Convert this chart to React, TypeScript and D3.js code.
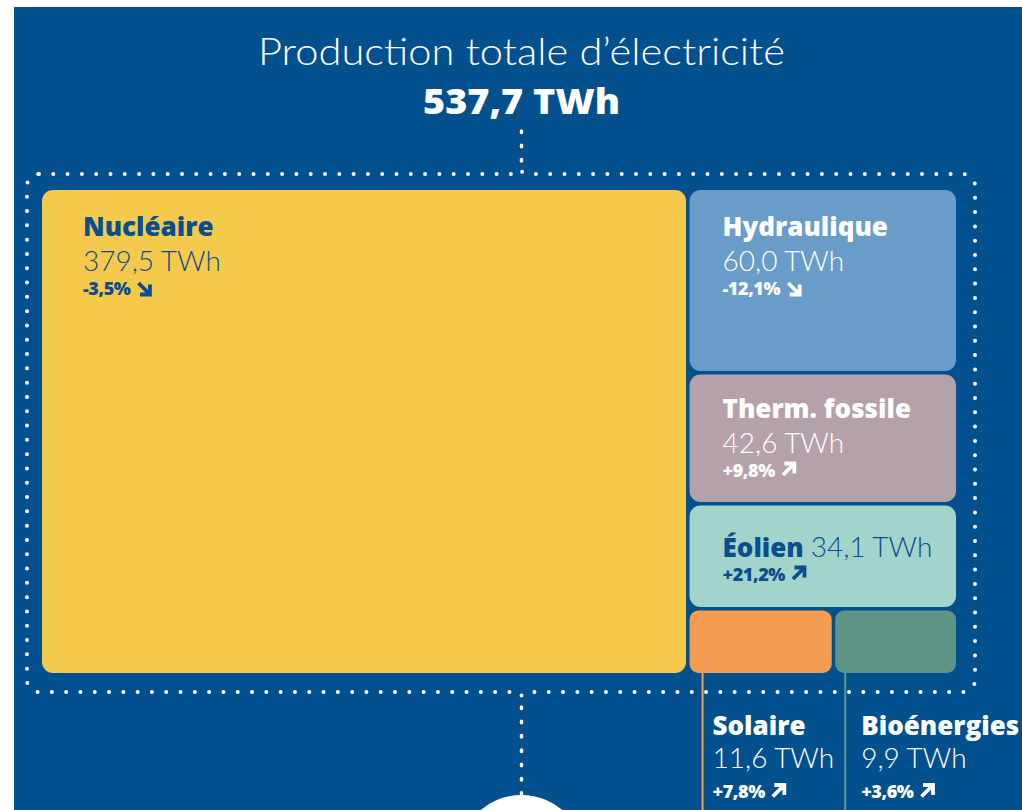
import { useEffect, useRef } from 'react';
import * as d3 from 'd3';

// Production d'électricité par filière (TWh) et évolution annuelle (%)
const sources = ['Nucléaire', 'Hydraulique', 'Therm. fossile', 'Éolien', 'Solaire', 'Bioénergies'];
const valuesTWh = [379.5, 60.0, 42.6, 34.1, 11.6, 9.9];
const changesPct = [-3.5, -12.1, 9.8, 21.2, 7.8, 3.6];
const fills = ['#F5C94B', '#6A9CCA', '#B5A1AA', '#A2D4CB', '#F49D52', '#5E9587'];
const textColors = ['#0B4E8D', '#FFFFFF', '#FFFFFF', '#0B4E8D', '#FFFFFF', '#FFFFFF'];
const totalLabel = '537,7 TWh';
const title = 'Production totale d\u2019électricité';

const BG = '#03508E';
const FONT = 'Lato, "Open Sans", sans-serif';
const BOLD_FONT = '"Open Sans", Lato, sans-serif';

const fmt = (v: number) => v.toFixed(1).replace('.', ',');
const fmtPct = (v: number) => `${v > 0 ? '+' : ''}${fmt(v)}%`;

export default function App() {
  const svgRef = useRef<SVGSVGElement>(null);

  useEffect(() => {
    if (!svgRef.current) return;
    const svg = d3.select(svgRef.current);
    svg.selectAll('*').remove();

    const W = 1022;
    const H = 810;
    const cx = 521.5;

    // background
    svg.append('rect').attr('width', W).attr('height', H).attr('fill', '#fff');
    svg.append('rect').attr('x', 14).attr('y', 7).attr('width', W - 14).attr('height', H - 7).attr('fill', BG);

    // title
    svg
      .append('text')
      .attr('x', cx)
      .attr('y', 65)
      .attr('text-anchor', 'middle')
      .attr('fill', '#fff')
      .style('font-family', FONT)
      .style('font-weight', 300)
      .style('font-size', '37px')
      .attr('textLength', 527)
      .attr('lengthAdjust', 'spacingAndGlyphs')
      .text(title);

    svg
      .append('text')
      .attr('x', cx)
      .attr('y', 114)
      .attr('text-anchor', 'middle')
      .attr('fill', '#fff')
      .style('font-family', BOLD_FONT)
      .style('font-weight', 800)
      .style('font-size', '36px')
      .attr('textLength', 197)
      .attr('lengthAdjust', 'spacingAndGlyphs')
      .text(totalLabel);

    // treemap layout
    const treeData = {
      name: 'root',
      children: [
        { name: sources[0], idx: 0, value: valuesTWh[0] },
        {
          name: 'autres',
          children: [
            { name: sources[1], idx: 1, value: valuesTWh[1] },
            { name: sources[2], idx: 2, value: valuesTWh[2] },
            { name: sources[3], idx: 3, value: valuesTWh[3] },
            {
              name: 'petits',
              children: [
                { name: sources[4], idx: 4, value: valuesTWh[4] },
                { name: sources[5], idx: 5, value: valuesTWh[5] },
              ],
            },
          ],
        },
      ],
    };

    const box = { x: 42, y: 190, w: 914, h: 483 };

    const root = d3
      .hierarchy<any>(treeData)
      .sum((d) => (d.children ? 0 : d.value));

    d3
      .treemap<any>()
      .tile(d3.treemapSliceDice)
      .size([box.w, box.h])
      .paddingInner(3.5)(root);

    const g = svg.append('g').attr('transform', `translate(${box.x},${box.y})`);

    const leaves = root.leaves() as d3.HierarchyRectangularNode<any>[];

    g.selectAll('rect.cell')
      .data(leaves)
      .enter()
      .append('rect')
      .attr('class', 'cell')
      .attr('x', (d) => d.x0)
      .attr('y', (d) => d.y0)
      .attr('width', (d) => d.x1 - d.x0)
      .attr('height', (d) => d.y1 - d.y0)
      .attr('rx', (d) => (d.y1 - d.y0 < 80 ? 9 : 11))
      .attr('fill', (d) => fills[d.data.idx]);

    // arrow after percentage
    const drawArrow = (sel: any, x: number, y: number, up: boolean, color: string) => {
      const s = 12.5;
      const p = d3.path();
      if (up) {
        p.moveTo(x + 1, y - 1);
        p.lineTo(x + s, y - s);
        p.moveTo(x + s * 0.2, y - s);
        p.lineTo(x + s, y - s);
        p.lineTo(x + s, y - s * 0.2);
      } else {
        p.moveTo(x + 1, y - s + 1);
        p.lineTo(x + s, y);
        p.moveTo(x + s, y - s * 0.8);
        p.lineTo(x + s, y);
        p.lineTo(x + s * 0.2, y);
      }
      sel
        .append('path')
        .attr('d', p.toString())
        .attr('fill', 'none')
        .attr('stroke', color)
        .attr('stroke-width', 3.8)
        .attr('stroke-linejoin', 'miter')
        .attr('stroke-linecap', 'butt');
    };

    const addPct = (sel: any, x: number, y: number, i: number, color: string) => {
      const t = sel
        .append('text')
        .attr('x', x)
        .attr('y', y)
        .attr('fill', color)
        .style('font-family', BOLD_FONT)
        .style('font-weight', 800)
        .style('font-size', '18px')
        .style('letter-spacing', '-0.4px')
        .text(fmtPct(changesPct[i]));
      const w = (t.node() as SVGTextElement).getComputedTextLength();
      drawArrow(sel, x + w + 7, y - 0.5, changesPct[i] > 0, color);
    };

    const labelText = (sel: any, x: number, y: number, txt: string, color: string, bold: boolean, size: number) =>
      sel
        .append('text')
        .attr('x', x)
        .attr('y', y)
        .attr('fill', color)
        .style('font-family', bold ? BOLD_FONT : FONT)
        .style('font-weight', bold ? 800 : 300)
        .style('font-size', `${size}px`)
        .text(txt);

    leaves.forEach((d) => {
      const i = d.data.idx;
      const color = textColors[i];
      const big = d.y1 - d.y0 > 80;
      if (i === 3) {
        // inline label + value
        const x = d.x0 + 33;
        const y = d.y0 + 51;
        const t = labelText(g, x, y, sources[i], color, true, 26);
        const w = (t.node() as SVGTextElement).getComputedTextLength();
        labelText(g, x + w + 7, y, `${fmt(valuesTWh[i])} TWh`, color, false, 28);
        addPct(g, x, y + 24, i, color);
      } else if (big) {
        const x = d.x0 + (d.x0 === 0 ? 41 : 33);
        const y = d.y0 + (i === 2 ? 43 : 46);
        labelText(g, x, y, sources[i], color, true, 26);
        labelText(g, x, y + 35, `${fmt(valuesTWh[i])} TWh`, color, false, 28);
        addPct(g, x, y + 59, i, color);
      } else {
        // small cells: leader line + label below the box
        const lx = d.x0 + (i === 4 ? 13 : 10);
        g.append('line')
          .attr('x1', lx)
          .attr('x2', lx)
          .attr('y1', d.y1)
          .attr('y2', H - box.y)
          .attr('stroke', fills[i])
          .attr('stroke-width', 2);
        const x = lx + (i === 4 ? 10 : 16);
        const y = d.y1 + 62;
        labelText(g, x, y, sources[i], color, true, 26);
        labelText(g, x, y + 33, `${fmt(valuesTWh[i])} TWh`, color, false, 28);
        addPct(g, x, y + 63, i, color);
      }
    });

    // dotted brace around the treemap
    const L = 27, R = 975, T = 174, B = 692, r = 12, bump = 4;
    const bp = d3.path();
    bp.moveTo(L + r, T);
    bp.lineTo(cx - 9, T);
    bp.quadraticCurveTo(cx, T, cx, T - bump);
    bp.quadraticCurveTo(cx, T, cx + 9, T);
    bp.lineTo(R - r, T);
    bp.arcTo(R, T, R, T + r, r);
    bp.lineTo(R, B - r);
    bp.arcTo(R, B, R - r, B, r);
    bp.lineTo(cx + 9, B);
    bp.quadraticCurveTo(cx, B, cx, B + bump);
    bp.quadraticCurveTo(cx, B, cx - 9, B);
    bp.lineTo(L + r, B);
    bp.arcTo(L, B, L, B - r, r);
    bp.lineTo(L, T + r);
    bp.arcTo(L, T, L + r, T, r);
    bp.closePath();

    svg
      .append('path')
      .attr('d', bp.toString())
      .attr('fill', 'none')
      .attr('stroke', '#fff')
      .attr('stroke-width', 4)
      .attr('stroke-linecap', 'round')
      .attr('stroke-dasharray', '0 14.3');

    // vertical dotted connectors
    [
      [131, T - bump - 8],
      [707, 795],
    ].forEach(([y1, y2]) => {
      svg
        .append('line')
        .attr('x1', cx)
        .attr('x2', cx)
        .attr('y1', y1)
        .attr('y2', y2)
        .attr('stroke', '#fff')
        .attr('stroke-width', 3.5)
        .attr('stroke-linecap', 'round')
        .attr('stroke-dasharray', '1.5 12.8');
    });

    // white circle at the bottom
    svg.append('circle').attr('cx', cx).attr('cy', 858).attr('r', 63).attr('fill', '#fff');
  }, []);

  return (
    <svg
      ref={svgRef}
      width={1022}
      height={810}
      style={{ position: 'absolute', left: 0, top: 0, display: 'block' }}
    />
  );
}
